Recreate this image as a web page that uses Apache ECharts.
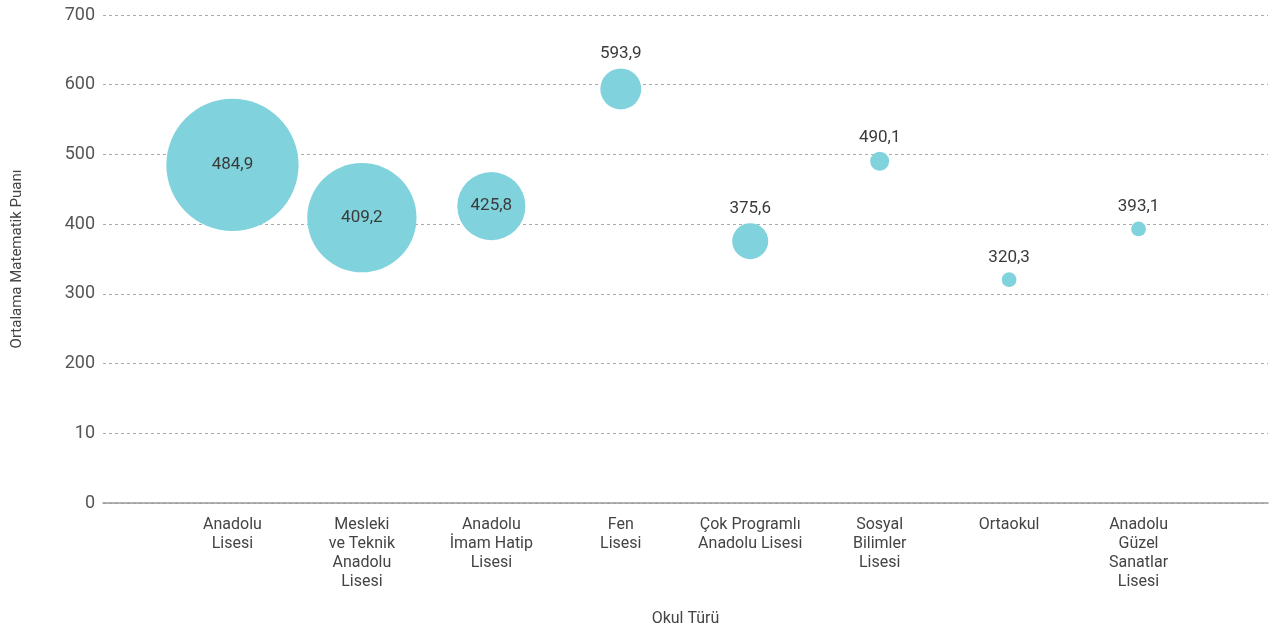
<!DOCTYPE html>
<html>
<head>
<meta charset="utf-8">
<script src="https://cdn.jsdelivr.net/npm/echarts@6/dist/echarts.min.js"></script>
<style>
  html, body { margin: 0; padding: 0; background: #fff; }
  #chart { width: 1271px; height: 632px; }
</style>
</head>
<body>
<div id="chart"></div>
<script>
// okul türleri
var okulTurleri = [
  'Anadolu\nLisesi',
  'Mesleki\nve Teknik\nAnadolu\nLisesi',
  'Anadolu\nİmam Hatip\nLisesi',
  'Fen\nLisesi',
  'Çok Programlı\nAnadolu Lisesi',
  'Sosyal\nBilimler\nLisesi',
  'Ortaokul',
  'Anadolu\nGüzel\nSanatlar\nLisesi'
];
// ortalama matematik puanı
var matPuani = [484.9, 409.2, 425.8, 593.9, 375.6, 490.1, 320.3, 393.1];
// öğrenci payı (%), balon alanı için (tahmini)
var ogrenciPayi = [46.0, 31.4, 12.2, 4.4, 3.4, 0.95, 0.57, 0.57];
// y ekseni etiketleri (orijinaldeki gibi)
var yEtiketleri = ['0', '10', '200', '300', '400', '500', '600', '700'];

var icerideGoster = [true, true, true, false, false, false, false, false];

var fontAile = 'Roboto, "Noto Sans", sans-serif';

var chart = echarts.init(document.getElementById('chart'));

var xData = [''].concat(okulTurleri).concat(['']);

var seriesData = matPuani.map(function (v, i) {
  return {
    value: [okulTurleri[i], v, ogrenciPayi[i]],
    label: { position: icerideGoster[i] ? 'inside' : 'top' }
  };
});

var option = {
  animation: false,
  backgroundColor: '#ffffff',
  grid: {
    left: 103,
    right: 0,
    top: 15,
    bottom: 127
  },
  xAxis: {
    type: 'category',
    boundaryGap: false,
    data: xData,
    name: 'Okul Türü',
    nameLocation: 'middle',
    nameGap: 108,
    nameTextStyle: { color: '#444', fontSize: 16, fontFamily: fontAile },
    axisLine: { lineStyle: { color: '#999', width: 1.5 } },
    axisTick: { show: false },
    splitLine: { show: false },
    axisLabel: {
      interval: 0,
      margin: 12,
      color: '#444',
      fontSize: 16,
      lineHeight: 19,
      fontFamily: fontAile
    }
  },
  yAxis: {
    type: 'value',
    min: 0,
    max: 700,
    interval: 100,
    name: 'Ortalama Matematik Puanı',
    nameLocation: 'middle',
    nameGap: 78,
    nameTextStyle: { color: '#444', fontSize: 15, fontFamily: fontAile },
    axisLine: { show: false },
    axisTick: { show: false },
    axisLabel: {
      margin: 8,
      color: '#555',
      fontSize: 18,
      fontFamily: fontAile,
      formatter: function (v) {
        return yEtiketleri[Math.round(v / 100)];
      }
    },
    splitLine: {
      lineStyle: { color: '#aaa', type: [3, 3], width: 1 }
    }
  },
  series: [{
    type: 'scatter',
    data: seriesData,
    symbolSize: function (val) {
      return 19.5 * Math.sqrt(val[2]);
    },
    itemStyle: { color: '#80d2dd', opacity: 1 },
    label: {
      show: true,
      color: '#3a3a3a',
      fontSize: 17,
      fontFamily: fontAile,
      distance: 6,
      formatter: function (p) {
        return p.value[1].toFixed(1).replace('.', ',');
      }
    },
    emphasis: { disabled: true }
  }]
};

chart.setOption(option);
</script>
</body>
</html>
